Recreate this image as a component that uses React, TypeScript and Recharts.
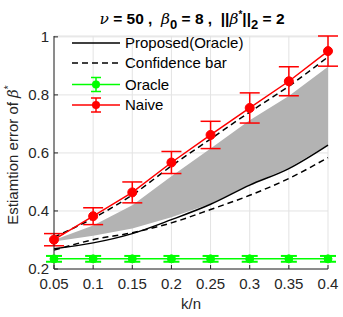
import React from 'react';
import {
  ComposedChart,
  Line,
  Area,
  XAxis,
  YAxis,
  CartesianGrid,
  ErrorBar,
  Legend,
} from 'recharts';

const kn = [0.05, 0.1, 0.15, 0.2, 0.25, 0.3, 0.35, 0.4];
const proposed = [0.27, 0.29, 0.322, 0.37, 0.423, 0.489, 0.546, 0.627];
const confUpper = [0.31, 0.375, 0.455, 0.555, 0.648, 0.741, 0.83, 0.931];
const confLower = [0.265, 0.301, 0.325, 0.359, 0.405, 0.454, 0.512, 0.584];
const bandLow = [0.295, 0.315, 0.34, 0.378, 0.425, 0.49, 0.548, 0.628];
const bandHigh = [0.3, 0.35, 0.42, 0.52, 0.615, 0.713, 0.796, 0.897];
const oracle = [0.235, 0.235, 0.235, 0.235, 0.235, 0.235, 0.235, 0.235];
const oracleErr = [0.01, 0.01, 0.01, 0.01, 0.01, 0.01, 0.01, 0.01];
const naive = [0.301, 0.382, 0.464, 0.567, 0.662, 0.755, 0.847, 0.951];
const naiveErr = [0.021, 0.029, 0.036, 0.038, 0.047, 0.052, 0.05, 0.052];

const xTicks = [0.05, 0.1, 0.15, 0.2, 0.25, 0.3, 0.35, 0.4];
const yTicks = [0.2, 0.4, 0.6, 0.8, 1];
const legendLabels = ['Proposed(Oracle)', 'Confidence bar', 'Oracle', 'Naive'];

const data = kn.map((k, i) => ({
  k,
  proposed: proposed[i],
  confUpper: confUpper[i],
  confLower: confLower[i],
  band: [bandLow[i], bandHigh[i]],
  oracle: oracle[i],
  oracleErr: oracleErr[i],
  naive: naive[i],
  naiveErr: naiveErr[i],
}));

const FONT = '"Liberation Sans", Arial, Helvetica, sans-serif';
const AXIS = '#262626';

const LegendContent = () => {
  const rowsY = [9, 29, 50.5, 71];
  return (
    <svg width={190} height={82} style={{ display: 'block', overflow: 'visible' }}>
      <line x1={0} x2={48} y1={rowsY[0]} y2={rowsY[0]} stroke="#000" strokeWidth={1.5} />
      <line x1={0} x2={48} y1={rowsY[1]} y2={rowsY[1]} stroke="#000" strokeWidth={1.5} strokeDasharray="6 4" />
      <line x1={0} x2={48} y1={rowsY[2]} y2={rowsY[2]} stroke="#00ff00" strokeWidth={1.5} />
      <line x1={24} x2={24} y1={rowsY[2] - 7} y2={rowsY[2] + 7} stroke="#00ff00" strokeWidth={1.5} />
      <line x1={19} x2={29} y1={rowsY[2] - 7} y2={rowsY[2] - 7} stroke="#00ff00" strokeWidth={1.5} />
      <line x1={19} x2={29} y1={rowsY[2] + 7} y2={rowsY[2] + 7} stroke="#00ff00" strokeWidth={1.5} />
      <circle cx={24} cy={rowsY[2]} r={4} fill="#00ff00" />
      <line x1={0} x2={48} y1={rowsY[3]} y2={rowsY[3]} stroke="#ff0000" strokeWidth={1.5} />
      <line x1={24} x2={24} y1={rowsY[3] - 7} y2={rowsY[3] + 7} stroke="#ff0000" strokeWidth={1.5} />
      <line x1={19} x2={29} y1={rowsY[3] - 7} y2={rowsY[3] - 7} stroke="#ff0000" strokeWidth={1.5} />
      <line x1={19} x2={29} y1={rowsY[3] + 7} y2={rowsY[3] + 7} stroke="#ff0000" strokeWidth={1.5} />
      <circle cx={24} cy={rowsY[3]} r={4} fill="#ff0000" />
      {legendLabels.map((t, i) => (
        <text
          key={t}
          x={53}
          y={rowsY[i]}
          dy="0.35em"
          fontSize={15}
          fontFamily={FONT}
          fill="#000"
        >
          {t}
        </text>
      ))}
    </svg>
  );
};

export default function App() {
  return (
    <div style={{ position: 'absolute', left: 0, top: 0, width: 343, height: 317, background: '#fff' }}>
      <ComposedChart
        width={343}
        height={317}
        data={data}
        margin={{ top: 36, right: 15, left: 0, bottom: 0 }}
        style={{ fontFamily: FONT }}
      >
        <CartesianGrid stroke="#e3e3e3" strokeWidth={1} />
        <XAxis
          dataKey="k"
          type="number"
          domain={[0.05, 0.4]}
          ticks={xTicks}
          height={48}
          stroke={AXIS}
          tickSize={-4}
          tickMargin={13}
          tick={{ fontSize: 15, fill: AXIS, fontFamily: FONT }}
          allowDecimals
        />
        <YAxis
          type="number"
          domain={[0.2, 1]}
          ticks={yTicks}
          width={54}
          stroke={AXIS}
          tickSize={-4}
          tickMargin={9}
          tick={{ fontSize: 15, fill: AXIS, fontFamily: FONT }}
        />
        <Legend
          layout="vertical"
          align="center"
          verticalAlign="middle"
          wrapperStyle={{ left: 72, top: 34, width: 190, height: 82 }}
          content={() => <LegendContent />}
        />
        <Area
          dataKey="band"
          type="linear"
          fill="#b3b3b3"
          fillOpacity={1}
          stroke="none"
          isAnimationActive={false}
          legendType="none"
        />
        <Line
          dataKey="proposed"
          type="monotone"
          stroke="#000"
          strokeWidth={1.5}
          dot={false}
          isAnimationActive={false}
        />
        <Line
          dataKey="confUpper"
          type="monotone"
          stroke="#000"
          strokeWidth={1.5}
          strokeDasharray="6 4"
          dot={false}
          isAnimationActive={false}
        />
        <Line
          dataKey="confLower"
          type="monotone"
          stroke="#000"
          strokeWidth={1.5}
          strokeDasharray="6 4"
          dot={false}
          isAnimationActive={false}
        />
        <Line
          dataKey="oracle"
          type="linear"
          stroke="#00ff00"
          strokeWidth={1.5}
          dot={{ r: 4, fill: '#00ff00', stroke: '#00ff00', strokeWidth: 1 }}
          isAnimationActive={false}
        >
          <ErrorBar dataKey="oracleErr" width={8} stroke="#00ff00" strokeWidth={2} direction="y" />
        </Line>
        <Line
          dataKey="naive"
          type="linear"
          stroke="#ff0000"
          strokeWidth={1.5}
          dot={{ r: 4.5, fill: '#ff0000', stroke: '#ff0000', strokeWidth: 1 }}
          isAnimationActive={false}
        >
          <ErrorBar dataKey="naiveErr" width={10} stroke="#ff0000" strokeWidth={1.5} direction="y" />
        </Line>
      </ComposedChart>
      <svg
        width={343}
        height={317}
        style={{ position: 'absolute', left: 0, top: 0, pointerEvents: 'none' }}
      >
        <text
          x={192}
          y={24}
          textAnchor="middle"
          fontSize={15.5}
          fontWeight="bold"
          fontFamily={FONT}
          fill="#000"
          style={{ whiteSpace: 'pre' }}
        >
          <tspan fontStyle="italic" fontWeight="normal" fontFamily='"DejaVu Serif", serif'>ν</tspan>
          <tspan>{' = 50 ,  '}</tspan>
          <tspan fontStyle="italic" fontWeight="normal" fontFamily='"DejaVu Serif", serif'>β</tspan>
          <tspan dy={5} fontSize={13}>0</tspan>
          <tspan dy={-5}>{' = 8 ,  ||'}</tspan>
          <tspan fontStyle="italic" fontWeight="normal" fontFamily='"DejaVu Serif", serif'>β</tspan>
          <tspan dy={-6} fontSize={10}>*</tspan>
          <tspan dy={6}>||</tspan>
          <tspan dy={5} fontSize={13}>2</tspan>
          <tspan dy={-5}>{' = 2'}</tspan>
        </text>
        <text
          transform="translate(18,155) rotate(-90)"
          textAnchor="middle"
          fontSize={15}
          fontFamily={FONT}
          fill={AXIS}
          style={{ whiteSpace: 'pre' }}
        >
          <tspan>{'Estiamtion error of '}</tspan>
          <tspan fontStyle="italic" fontFamily='"DejaVu Serif", serif'>β</tspan>
          <tspan dy={-6} fontSize={10}>*</tspan>
        </text>
        <text x={191} y={309} textAnchor="middle" fontSize={15} fontFamily={FONT} fill={AXIS}>
          k/n
        </text>
      </svg>
    </div>
  );
}
